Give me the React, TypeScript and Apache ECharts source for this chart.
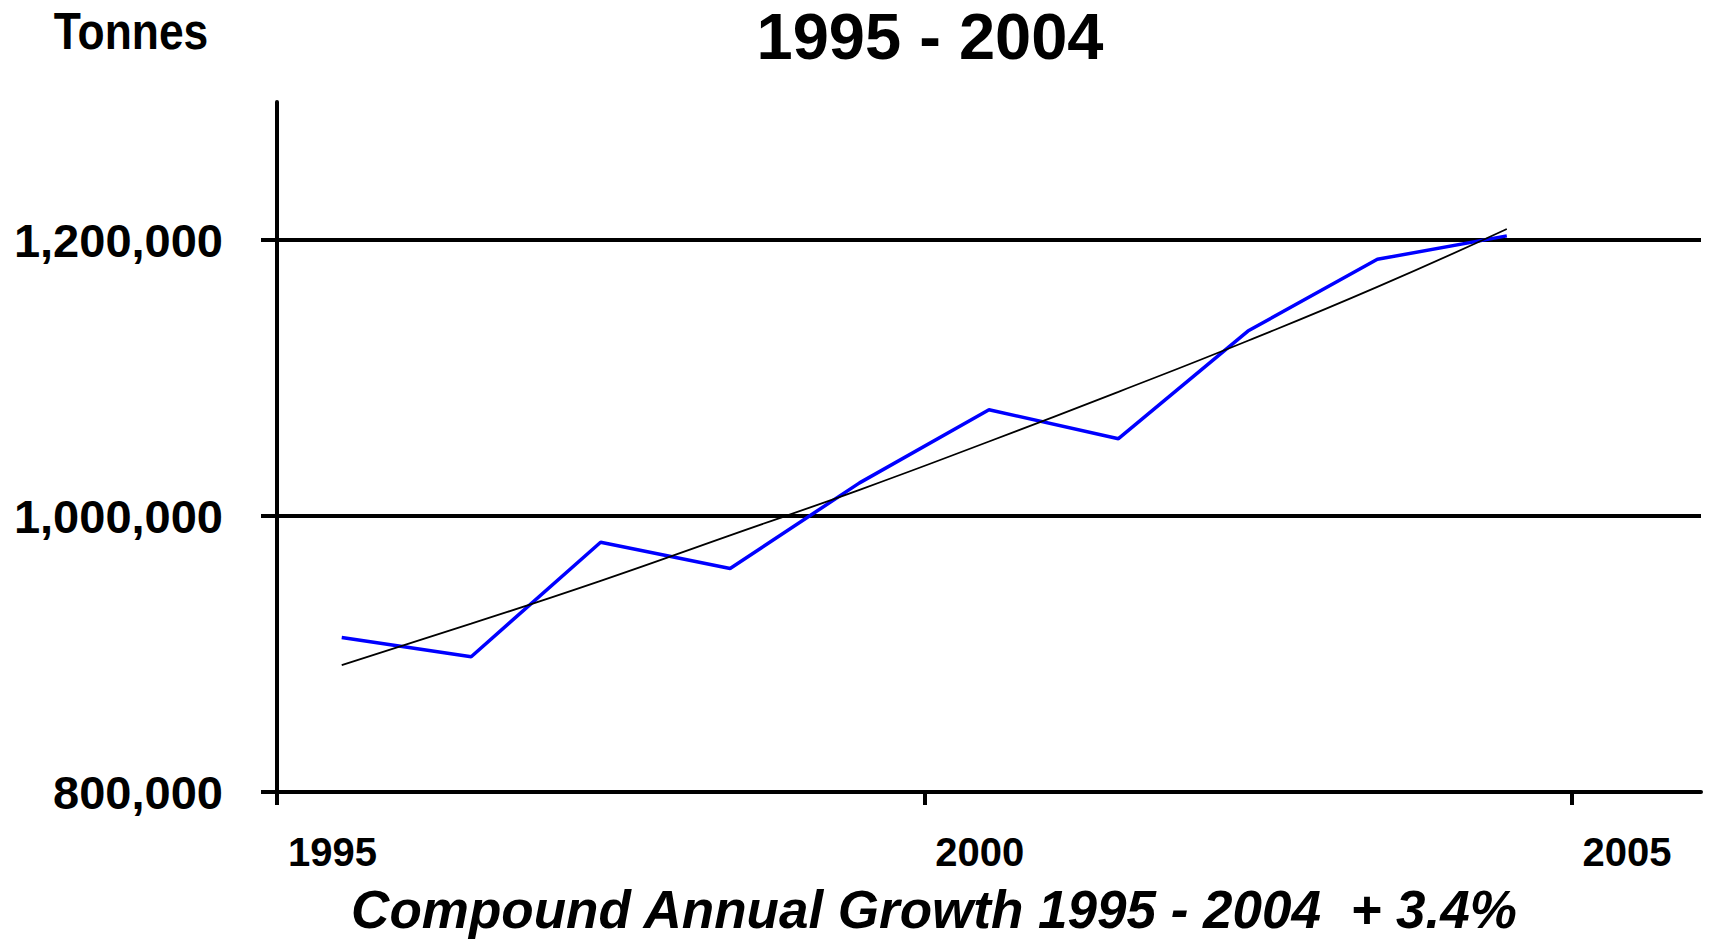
import React, { useEffect, useRef } from 'react';
import * as echarts from 'echarts';

// ---- data ----
const years = [1995, 1996, 1997, 1998, 1999, 2000, 2001, 2002, 2003, 2004];
const tonnes = [912000, 898000, 981000, 962000, 1024000, 1077000, 1056000, 1134000, 1186000, 1203000];
const trendValues = [892000, 922000, 953000, 986000, 1019000, 1054000, 1090000, 1127000, 1166000, 1208000];
const xTickValues = [1995, 2000, 2005];
const yTickValues = [800000, 1000000, 1200000];
const gridLineValues = [1000000, 1200000];
const titleText = '1995 - 2004';
const unitText = 'Tonnes';
const footText = 'Compound Annual Growth 1995 - 2004  + 3.4%';

const FONT = "'Liberation Sans', Arial, Helvetica, sans-serif";
const MID_YEAR = 0.5;

export default function App() {
  const ref = useRef<HTMLDivElement>(null);

  useEffect(() => {
    document.body.style.margin = '0';
    if (!ref.current) return;
    const chart = echarts.init(ref.current, undefined, { renderer: 'svg' });

    const lineData = years.map((y, i) => [y + MID_YEAR, tonnes[i]]);
    const trendData = years.map((y, i) => [y + MID_YEAR, trendValues[i]]);

    chart.setOption({
      animation: false,
      backgroundColor: '#ffffff',
      grid: { left: 277, right: 11, top: 102, bottom: 150, containLabel: false },
      xAxis: {
        type: 'value',
        min: 1995,
        max: 2006,
        interval: 5,
        axisLine: { show: true, onZero: false, lineStyle: { color: '#000', width: 4 } },
        axisTick: {
          show: true,
          inside: false,
          length: 13,
          customValues: xTickValues,
          lineStyle: { color: '#000', width: 4 },
        },
        axisLabel: {
          show: true,
          customValues: xTickValues,
          formatter: (v: number) => String(v),
          align: 'left',
          padding: [0, 0, 0, 11],
          margin: 40,
          lineHeight: 40,
          color: '#000',
          fontFamily: FONT,
          fontWeight: 'bold',
          fontSize: 40,
        },
        splitLine: { show: false },
      },
      yAxis: {
        type: 'value',
        min: 800000,
        max: 1300000,
        interval: 200000,
        axisLine: { show: true, onZero: false, lineStyle: { color: '#000', width: 4 } },
        axisTick: {
          show: true,
          inside: false,
          length: 16,
          customValues: yTickValues,
          lineStyle: { color: '#000', width: 4 },
        },
        axisLabel: {
          show: true,
          customValues: yTickValues,
          formatter: (v: number) => v.toLocaleString('en-US'),
          margin: 54,
          color: '#000',
          fontFamily: FONT,
          fontWeight: 'bold',
          fontSize: 47,
        },
        splitLine: { show: false },
      },
      series: [
        {
          type: 'line',
          name: 'grid',
          data: [],
          silent: true,
          z: 1,
          markLine: {
            silent: true,
            z: 1,
            symbol: ['none', 'none'],
            label: { show: false },
            lineStyle: { color: '#000', width: 4, type: 'solid' },
            emphasis: { disabled: true },
            data: gridLineValues.map((v) => ({ yAxis: v })),
          },
        },
        {
          type: 'line',
          name: 'Tonnes',
          data: lineData,
          showSymbol: false,
          symbol: 'none',
          smooth: false,
          z: 3,
          lineStyle: { color: '#0000ff', width: 3.5 },
        },
        {
          type: 'line',
          name: 'Trend',
          data: trendData,
          showSymbol: false,
          symbol: 'none',
          smooth: true,
          z: 4,
          lineStyle: { color: '#000', width: 1.8 },
        },
      ],
      graphic: [
        {
          type: 'text',
          x: 930,
          y: 36,
          style: {
            text: titleText,
            fontFamily: FONT,
            fontWeight: 'bold',
            fontSize: 65,
            fill: '#000',
            align: 'center',
            verticalAlign: 'middle',
          },
        },
        {
          type: 'text',
          x: 131,
          y: 31,
          scaleX: 0.87,
          style: {
            text: unitText,
            fontFamily: FONT,
            fontWeight: 'bold',
            fontSize: 51,
            fill: '#000',
            align: 'center',
            verticalAlign: 'middle',
          },
        },
        {
          type: 'text',
          x: 934,
          y: 909,
          style: {
            text: footText,
            fontFamily: FONT,
            fontWeight: 'bold',
            fontStyle: 'italic',
            fontSize: 53,
            fill: '#000',
            align: 'center',
            verticalAlign: 'middle',
          },
        },
      ],
    });

    return () => {
      chart.dispose();
    };
  }, []);

  return (
    <div
      ref={ref}
      style={{ position: 'absolute', left: 0, top: 0, width: 1712, height: 942, background: '#fff' }}
    />
  );
}
